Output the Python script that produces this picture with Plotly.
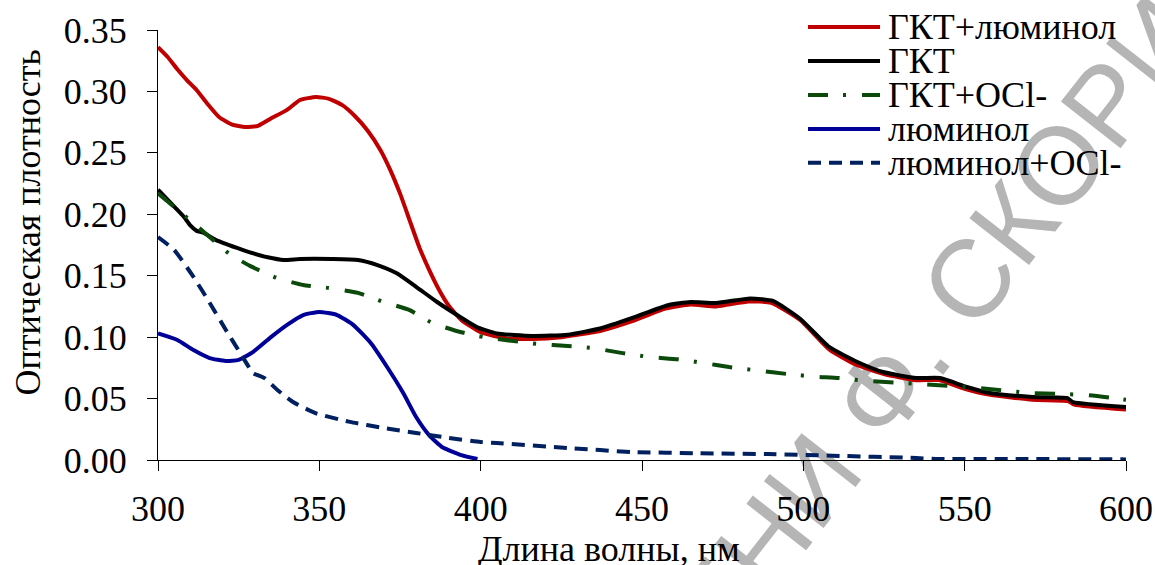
import plotly.graph_objects as go

# ---------------- data ----------------
names = ["ГКТ+люминол", "ГКТ", "ГКТ+OCl-", "люминол", "люминол+OCl-"]
colors = ["#C00000", "#000000", "#0B4A0B", "#000099", "#002060"]
dashes = ["solid", "solid", "20px,15px,3px,16px", "solid", "13px,8px"]

wl_red = [300, 303, 306, 309, 312, 315, 319, 323, 327, 331, 335, 340, 344, 349, 353,
          357, 361, 365, 369, 372, 375, 378, 381, 384, 387, 390, 394, 400, 408, 416,
          425, 437, 447, 457, 465, 473, 483, 490, 499, 508, 516, 525, 535, 542, 550,
          558, 571, 582, 584, 600]
a_red = [0.336, 0.328, 0.318, 0.309, 0.301, 0.291, 0.279, 0.273, 0.271, 0.272, 0.278,
         0.285, 0.293, 0.2955, 0.294, 0.289, 0.280, 0.268, 0.252, 0.236, 0.217, 0.195,
         0.173, 0.155, 0.139, 0.126, 0.114, 0.104, 0.099, 0.0985, 0.100, 0.105, 0.113,
         0.123, 0.1265, 0.125, 0.129, 0.128, 0.114, 0.090, 0.078, 0.070, 0.065, 0.065,
         0.058, 0.053, 0.049, 0.048, 0.045, 0.041]

wl_black = [300, 304, 308, 310, 312, 314, 318, 324.5, 328.5, 334, 339, 344, 354, 362,
            368, 374, 380, 386.5, 392.7, 399, 405, 416, 427, 437, 447, 458, 465, 473,
            483.5, 490.6, 499, 508, 516.6, 524.7, 535, 542.3, 550.7, 557.8, 571, 581.7,
            583.6, 600]
a_black = [0.220, 0.209, 0.198, 0.191, 0.1865, 0.185, 0.179, 0.1726, 0.169, 0.165,
           0.1628, 0.1636, 0.1636, 0.1628, 0.1587, 0.152, 0.141, 0.1286, 0.118, 0.108,
           0.103, 0.101, 0.102, 0.107, 0.1156, 0.126, 0.1286, 0.1278, 0.1315, 0.1295,
           0.115, 0.092, 0.080, 0.0716, 0.0667, 0.0667, 0.0594, 0.0545, 0.0513, 0.0505,
           0.0472, 0.0431]

wl_green = [300, 310, 316, 322, 328.5, 337, 345, 353, 362, 370, 378, 385, 394, 401, 418,
            427, 435, 444, 452.5, 461, 469, 477, 486, 495, 503, 511, 520, 536, 554, 571,
            588, 596, 600]
a_green = [0.217, 0.195, 0.1815, 0.168, 0.158, 0.148, 0.1424, 0.140, 0.136, 0.1286,
           0.122, 0.1115, 0.104, 0.100, 0.0944, 0.0928, 0.091, 0.087, 0.0838, 0.082,
           0.079, 0.0757, 0.0728, 0.070, 0.068, 0.0667, 0.0643, 0.0619, 0.0586, 0.0545,
           0.0529, 0.0505, 0.049]

wl_blue = [300, 306, 311, 316, 321, 325, 329.5, 335, 340, 345, 350, 355.5, 360.5, 366,
           371, 376, 380, 384, 388, 394, 399]
a_blue = [0.103, 0.0977, 0.0895, 0.083, 0.0806, 0.0815, 0.088, 0.100, 0.110, 0.118,
          0.1205, 0.118, 0.110, 0.095, 0.0757, 0.0545, 0.035, 0.0203, 0.0106, 0.004,
          0.0008]

wl_navy = [300, 305, 311, 316, 321, 325.5, 329.5, 333, 337, 342, 349, 359.5, 370, 380,
           390, 400, 405, 427, 447, 468, 489, 509, 535, 541, 566, 600]
a_navy = [0.1815, 0.171, 0.149, 0.128, 0.106, 0.087, 0.0708, 0.0667, 0.057, 0.047,
          0.038, 0.031, 0.026, 0.022, 0.018, 0.0147, 0.0138, 0.0098, 0.0065, 0.0055,
          0.0048, 0.0035, 0.0016, 0.0008, 0.0008, 0.0005]

x_ticks = [300, 350, 400, 450, 500, 550, 600]
y_ticks = [0.00, 0.05, 0.10, 0.15, 0.20, 0.25, 0.30, 0.35]

x_title = "Длина волны, нм"
y_title = "Оптическая плотность"
watermark = "ИМЕНИ Ф. СКОРИНЫ"

series_x = [wl_red, wl_black, wl_green, wl_blue, wl_navy]
series_y = [a_red, a_black, a_green, a_blue, a_navy]

FONT = "Liberation Serif, Times New Roman, serif"
FS = 36

fig = go.Figure()
for nm, xs, ys, c, d in zip(names, series_x, series_y, colors, dashes):
    fig.add_trace(go.Scatter(x=xs, y=ys, name=nm, mode="lines",
                             line=dict(color=c, width=4, dash=d, shape="spline", smoothing=0.5),
                             showlegend=False))

# custom compact legend (samples + labels) in paper coordinates
leg_x0, leg_x1, leg_tx = 0.6715, 0.7459, 0.752
leg_y = [1.007, 0.928, 0.849, 0.770, 0.691]
shapes = []
annotations = []
for nm, c, d, yy in zip(names, colors, dashes, leg_y):
    shapes.append(dict(type="line", xref="paper", yref="paper", x0=leg_x0, x1=leg_x1,
                       y0=yy, y1=yy, line=dict(color=c, width=4, dash=d)))
    annotations.append(dict(text=nm, xref="paper", yref="paper", x=leg_tx, y=yy,
                            xanchor="left", yanchor="middle", showarrow=False,
                            font=dict(family=FONT, size=FS, color="black")))

# axis titles
annotations.append(dict(text=x_title, xref="paper", yref="paper", x=0.466, y=-0.155,
                        xanchor="center", yanchor="top", showarrow=False,
                        font=dict(family=FONT, size=FS, color="black")))
annotations.append(dict(text=y_title, xref="paper", yref="paper", x=-0.134, y=0.553,
                        xanchor="center", yanchor="middle", showarrow=False, textangle=-90,
                        font=dict(family=FONT, size=FS, color="black")))

# watermark placed under the traces via a shape label
shapes.append(dict(type="line", xref="paper", yref="paper", layer="below",
                   x0=0.7339, y0=0.1586, x1=0.8612, y1=0.5251,
                   line=dict(color="rgba(0,0,0,0)", width=0),
                   label=dict(text=watermark, textposition="middle", yanchor="middle",
                              font=dict(family="Liberation Sans, Arial, sans-serif",
                                        size=110, color="#b5b5b5"))))

fig.update_layout(
    width=1155, height=565,
    margin=dict(l=158, r=29, t=30, b=105, autoexpand=False),
    paper_bgcolor="white", plot_bgcolor="white",
    shapes=shapes, annotations=annotations,
    showlegend=False,
)
fig.update_xaxes(range=[300, 600], tickvals=x_ticks, ticktext=[str(v) for v in x_ticks],
                 automargin=False,
                 showgrid=False, zeroline=False, showline=True, linecolor="black", linewidth=1.3,
                 ticks="outside", ticklen=10, tickwidth=1.3, tickcolor="black",
                 ticklabelstandoff=7,
                 tickfont=dict(family=FONT, size=FS, color="black"))
fig.update_yaxes(range=[0, 0.35], tickvals=y_ticks, ticktext=[f"{v:.2f}" for v in y_ticks],
                 automargin=False,
                 showgrid=False, zeroline=False, showline=True, linecolor="black", linewidth=1.3,
                 ticks="outside", ticklen=10, tickwidth=1.3, tickcolor="black",
                 ticklabelstandoff=13,
                 tickfont=dict(family=FONT, size=FS, color="black"))

fig.write_html("out.html", config={"displayModeBar": False},
               post_script="document.body.style.margin='0';")
